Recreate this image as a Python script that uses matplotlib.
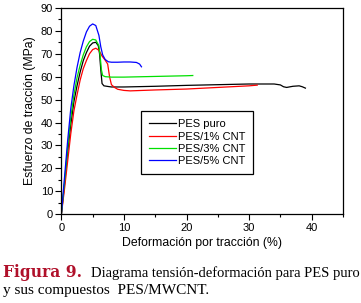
import matplotlib
matplotlib.use("Agg")
import matplotlib.pyplot as plt
from matplotlib.ticker import MultipleLocator

# strain (%) / stress (MPa)
puro_x = [0, 0.5, 1, 1.5, 2, 2.5, 3, 3.5, 4, 4.5, 5, 5.5, 5.9, 6.1, 6.3, 6.5, 6.8, 7.5, 8, 10, 15, 20, 25, 30, 34, 35, 35.5, 36, 37, 38, 38.5, 39]
puro_y = [0, 13, 27, 39, 49, 56, 62, 67, 70.5, 73.3, 74.7, 75, 73.5, 70, 63, 57, 56, 55.7, 55.5, 55.5, 55.8, 56.2, 56.5, 56.8, 56.8, 56.4, 55.6, 55.3, 55.8, 56, 55.6, 55]

cnt1_x = [0, 0.5, 1, 1.5, 2, 2.5, 3, 3.5, 4, 4.5, 5, 5.5, 6, 6.5, 7, 7.4, 7.7, 8, 8.5, 9, 10, 11, 13, 15, 20, 25, 30, 31.3]
cnt1_y = [0, 11, 23, 35, 45, 52, 58.5, 63.5, 67, 70, 71.8, 72.4, 71.5, 69, 67.2, 65.5, 60, 56.5, 55.3, 54.5, 54, 53.8, 54, 54.2, 54.6, 55.3, 56, 56.3]

cnt3_x = [0, 0.5, 1, 1.5, 2, 2.5, 3, 3.5, 4, 4.5, 5, 5.5, 6, 6.2, 6.4, 6.6, 7, 8, 10, 15, 20, 21]
cnt3_y = [0, 14, 29, 42, 52, 59.5, 65, 69.5, 73, 75.3, 76.3, 76, 73.5, 69, 63, 60.5, 60, 59.8, 59.8, 60.1, 60.4, 60.5]

cnt5_x = [0, 0.5, 1, 1.5, 2, 2.5, 3, 3.5, 4, 4.5, 5, 5.5, 6, 6.3, 6.6, 7, 7.5, 8, 9, 10, 11, 12, 12.5, 12.8]
cnt5_y = [0, 16, 32, 46, 56, 64, 70.5, 75.5, 79.5, 82, 83, 82.3, 78, 73, 69.5, 67.5, 66.5, 66.3, 66.3, 66.4, 66.4, 66.2, 65.5, 64.3]

labels = ["PES puro", "PES/1% CNT", "PES/3% CNT", "PES/5% CNT"]
colors = ["black", "#ff0000", "#00e000", "#0000ff"]

plt.rcParams['font.family'] = ['Liberation Sans', 'DejaVu Sans']

fig = plt.figure(figsize=(3.61, 3.03), dpi=100)
ax = fig.add_axes([0.170, 0.293, 0.780, 0.681])

series = [(puro_x, puro_y), (cnt1_x, cnt1_y), (cnt3_x, cnt3_y), (cnt5_x, cnt5_y)]
for (xs, ys), lab, c in zip(series, labels, colors):
    ax.plot(xs, ys, color=c, lw=0.9, label=lab)

ax.set_xlim(0, 45)
ax.set_ylim(0, 90)
ax.xaxis.set_major_locator(MultipleLocator(10))
ax.xaxis.set_minor_locator(MultipleLocator(5))
ax.yaxis.set_major_locator(MultipleLocator(10))
ax.yaxis.set_minor_locator(MultipleLocator(5))
ax.tick_params(which='major', direction='out', length=4, width=0.8, labelsize=8, pad=2)
ax.tick_params(which='minor', direction='out', length=2, width=0.8)
for s in ax.spines.values():
    s.set_linewidth(0.9)

ax.set_xlabel("Deformación por tracción (%)", fontsize=8.8, labelpad=3)
ax.set_ylabel("Esfuerzo de tracción (MPa)", fontsize=8.8, labelpad=3)

leg = ax.legend(loc='upper left', bbox_to_anchor=(0.283, 0.50), fontsize=8,
                frameon=True, fancybox=False, edgecolor='black', framealpha=1,
                handlelength=2.4, handletextpad=0.15, labelspacing=0.2,
                borderpad=0.75, borderaxespad=0)
leg.get_frame().set_linewidth(0.9)

# caption
fig.text(3 / 361, 1 - 277 / 303, "Figura 9.", color='#b0102a', fontweight='bold',
         family='DejaVu Serif', fontsize=11.2, va='baseline', ha='left')
fig.text(91 / 361, 1 - 277 / 303, "Diagrama tensión-deformación para PES puro",
         family='Liberation Serif', fontsize=10.5, va='baseline', ha='left')
fig.text(3 / 361, 1 - 294 / 303, "y sus compuestos  PES/MWCNT.",
         family='Liberation Serif', fontsize=11, va='baseline', ha='left')

fig.savefig("out.png", dpi=100)
